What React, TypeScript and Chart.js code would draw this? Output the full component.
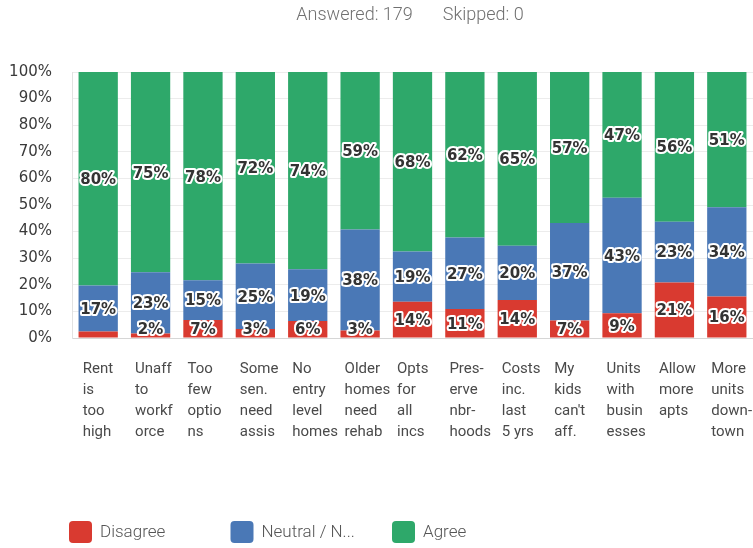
import React, { useEffect, useRef } from 'react';
import { Chart, registerables } from 'chart.js';

Chart.register(...registerables);

const categories: string[][] = [
  ['Rent', 'is', 'too', 'high'],
  ['Unaff', 'to', 'workf', 'orce'],
  ['Too', 'few', 'optio', 'ns'],
  ['Some', 'sen.', 'need', 'assis'],
  ['No', 'entry', 'level', 'homes'],
  ['Older', 'homes', 'need', 'rehab'],
  ['Opts', 'for', 'all', 'incs'],
  ['Pres-', 'erve', 'nbr-', 'hoods'],
  ['Costs', 'inc.', 'last', '5 yrs'],
  ['My', 'kids', "can't", 'aff.'],
  ['Units', 'with', 'busin', 'esses'],
  ['Allow', 'more', 'apts'],
  ['More', 'units', 'down-', 'town'],
];

const disagree = [2.4, 1.7, 6.8, 3.4, 6.4, 2.8, 13.6, 10.9, 14.3, 6.6, 9.3, 20.9, 15.6];
const neutral = [17.3, 23.0, 14.9, 24.6, 19.4, 38.0, 18.9, 26.9, 20.4, 36.6, 43.4, 22.8, 33.6];
const agree = [80.3, 75.3, 78.3, 72.0, 74.2, 59.2, 67.5, 62.2, 65.3, 56.8, 47.3, 56.3, 50.8];

const disagreeLabelShown = [false, true, true, true, true, true, true, true, true, true, true, true, true];
const neutralLabelShown = categories.map(() => true);
const agreeLabelShown = categories.map(() => true);

const seriesNames = ['Disagree', 'Neutral / N...', 'Agree'];
const seriesColors = ['#D93A30', '#4A78B6', '#2EA86A'];

const answeredText = 'Answered: 179';
const skippedText = 'Skipped: 0';

const yMin = 0;
const yMax = 100;
const yStep = 10;

const headerPlugin = {
  id: 'header',
  afterDraw(chart: any) {
    const { ctx } = chart;
    ctx.save();
    ctx.font = '300 18px Roboto';
    ctx.fillStyle = '#707070';
    ctx.textBaseline = 'middle';
    const gap = 30;
    const w1 = ctx.measureText(answeredText).width;
    const w2 = ctx.measureText(skippedText).width;
    const total = w1 + gap + w2;
    const cx = 410;
    const x0 = cx - total / 2;
    ctx.textAlign = 'left';
    ctx.fillText(answeredText, x0, 15);
    ctx.fillText(skippedText, x0 + w1 + gap, 15);
    ctx.restore();
  },
};

const valueLabelPlugin = {
  id: 'valueLabels',
  afterDatasetsDraw(chart: any) {
    const { ctx, chartArea } = chart;
    const shown = [disagreeLabelShown, neutralLabelShown, agreeLabelShown];
    ctx.save();
    ctx.font = 'bold 15px "DejaVu Sans"';
    ctx.textAlign = 'center';
    ctx.textBaseline = 'middle';
    ctx.lineJoin = 'round';
    chart.data.datasets.forEach((ds: any, di: number) => {
      const meta = chart.getDatasetMeta(di);
      meta.data.forEach((bar: any, i: number) => {
        if (!shown[di][i]) return;
        const v = ds.data[i];
        const text = Math.round(v) + '%';
        let y = (bar.y + bar.base) / 2 + 1.5;
        y = Math.min(y, chartArea.bottom - 8);
        ctx.lineWidth = 4;
        ctx.strokeStyle = '#ffffff';
        ctx.strokeText(text, bar.x, y);
        ctx.fillStyle = '#333333';
        ctx.fillText(text, bar.x, y);
      });
    });
    ctx.restore();
  },
};

const xLabelPlugin = {
  id: 'xLabels',
  afterDraw(chart: any) {
    const { ctx, chartArea } = chart;
    const xs = chart.scales.x;
    ctx.save();
    ctx.font = '15px Roboto';
    ctx.fillStyle = '#4a4a4a';
    ctx.textAlign = 'left';
    ctx.textBaseline = 'middle';
    categories.forEach((lines, i) => {
      const x = xs.getPixelForValue(i) - 15.5;
      lines.forEach((line, li) => {
        ctx.fillText(line, x, chartArea.bottom + 31 + li * 21);
      });
    });
    ctx.restore();
  },
};

const legendPlugin = {
  id: 'customLegend',
  afterDraw(chart: any) {
    const { ctx } = chart;
    ctx.save();
    ctx.font = '300 17px Roboto';
    ctx.textBaseline = 'middle';
    ctx.textAlign = 'left';
    chart.data.datasets.forEach((ds: any, i: number) => {
      const x = 69 + i * 161.5;
      const y = 532;
      ctx.fillStyle = ds.backgroundColor;
      ctx.beginPath();
      (ctx as any).roundRect(x, y - 11, 23, 22, 4);
      ctx.fill();
      ctx.fillStyle = '#555555';
      ctx.fillText(ds.label, x + 31, y + 1);
    });
    ctx.restore();
  },
};

export default function App() {
  const canvasRef = useRef<HTMLCanvasElement | null>(null);

  useEffect(() => {
    if (!canvasRef.current) return;
    const chart = new Chart(canvasRef.current, {
      type: 'bar',
      data: {
        labels: categories,
        datasets: [
          { label: seriesNames[0], data: disagree, backgroundColor: seriesColors[0] },
          { label: seriesNames[1], data: neutral, backgroundColor: seriesColors[1] },
          { label: seriesNames[2], data: agree, backgroundColor: seriesColors[2] },
        ].map((d) => ({ ...d, barPercentage: 0.75, categoryPercentage: 1, borderWidth: 0 })),
      },
      options: {
        responsive: false,
        animation: false,
        layout: { padding: { top: 72, bottom: 202, left: 0, right: 0 } },
        plugins: {
          legend: { display: false },
          title: { display: false },
          tooltip: { enabled: false },
        },
        scales: {
          x: {
            stacked: true,
            grid: { display: false },
            ticks: { display: false },
            border: { display: true, color: '#d6d6d6' },
          },
          y: {
            stacked: true,
            min: yMin,
            max: yMax,
            ticks: {
              stepSize: yStep,
              callback: (v: any) => v + '%',
              font: { family: 'DejaVu Sans', size: 15 },
              color: '#3a3a3a',
              padding: 20,
            },
            grid: { color: '#ececec', drawTicks: false },
            border: { display: true, color: '#e2e2e2' },
            afterFit: (scale: any) => {
              scale.width = 72;
            },
          },
        },
      },
      plugins: [headerPlugin, valueLabelPlugin, xLabelPlugin, legendPlugin],
    });
    return () => chart.destroy();
  }, []);

  return (
    <div style={{ position: 'fixed', left: 0, top: 0, width: 753, height: 548, background: '#ffffff' }}>
      <canvas ref={canvasRef} width={753} height={548} style={{ display: 'block', width: 753, height: 548 }} />
    </div>
  );
}
